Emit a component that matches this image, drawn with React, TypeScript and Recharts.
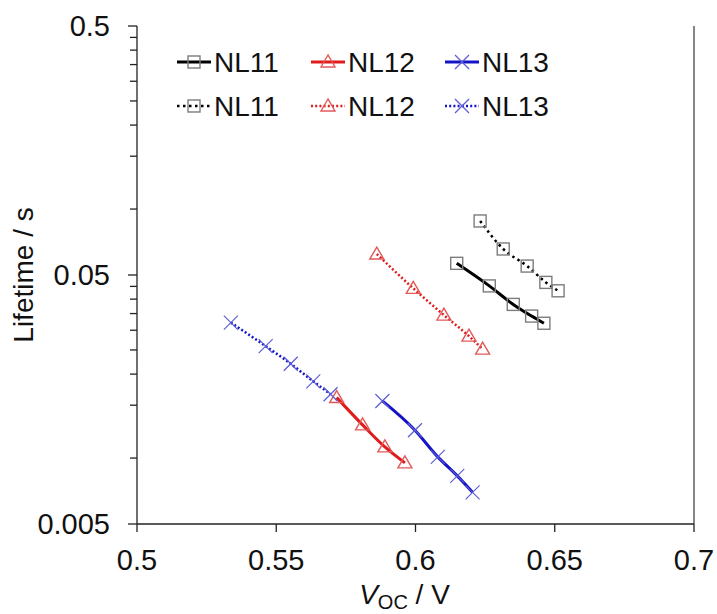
import React from 'react';
import { LineChart, Line, XAxis, YAxis, ReferenceLine, Customized } from 'recharts';

// ---- data ----
const seriesNames = ['NL11', 'NL12', 'NL13'];

const nl11SolidX = [0.6148, 0.6265, 0.6351, 0.6417, 0.6461];
const nl11SolidY = [0.0557, 0.0452, 0.0381, 0.0342, 0.032];
const nl11DottedX = [0.6232, 0.6315, 0.6401, 0.6468, 0.6512];
const nl11DottedY = [0.0824, 0.0636, 0.0543, 0.0467, 0.0432];

const nl12SolidX = [0.5717, 0.581, 0.589, 0.5962];
const nl12SolidY = [0.0161, 0.0125, 0.0102, 0.0088];
const nl12DottedX = [0.5861, 0.5992, 0.6102, 0.6192, 0.6241];
const nl12DottedY = [0.0607, 0.0442, 0.0345, 0.0284, 0.0252];

const nl13SolidX = [0.5881, 0.5998, 0.608, 0.615, 0.6205];
const nl13SolidY = [0.0156, 0.0119, 0.0093, 0.0078, 0.0067];
const nl13DottedX = [0.5337, 0.5462, 0.5552, 0.5633, 0.5695];
const nl13DottedY = [0.0322, 0.0259, 0.022, 0.0187, 0.0166];

const xTicks = [0.5, 0.55, 0.6, 0.65, 0.7];
const yMajorTicks = [0.005, 0.05, 0.5];
const yMinorTicks = [0.0092, 0.015, 0.02, 0.025, 0.03, 0.035, 0.04, 0.045, 0.092, 0.15, 0.2, 0.25, 0.3, 0.35, 0.4, 0.45];

// ---- styles ----
const lineColors = ['#000000', '#e01b1b', '#1414c6'];
const markerColors = ['#7c7c7c', '#e25a5a', '#5c5cd8'];
const shapes = ['square', 'triangle', 'cross'];
const dottedDash = ['2.5 3.5', '2 2.2', '2 2.2'];
const FONT = '"Liberation Sans", Arial, Helvetica, sans-serif';

const zip = (xs: number[], ys: number[]) => xs.map((x, i) => ({ x, y: ys[i] }));

const series = [
  { idx: 0, dotted: false, data: zip(nl11SolidX, nl11SolidY) },
  { idx: 1, dotted: false, data: zip(nl12SolidX, nl12SolidY) },
  { idx: 2, dotted: false, data: zip(nl13SolidX, nl13SolidY) },
  { idx: 0, dotted: true, data: zip(nl11DottedX, nl11DottedY) },
  { idx: 1, dotted: true, data: zip(nl12DottedX, nl12DottedY) },
  { idx: 2, dotted: true, data: zip(nl13DottedX, nl13DottedY) },
];

function Marker({ shape, cx, cy, color }: { shape: string; cx: number; cy: number; color: string }) {
  if (shape === 'square') {
    return <rect x={cx - 6} y={cy - 6} width={12} height={12} fill="none" stroke={color} strokeWidth={1.4} />;
  }
  if (shape === 'triangle') {
    return (
      <polygon
        points={`${cx},${cy - 7} ${cx - 7},${cy + 5} ${cx + 7},${cy + 5}`}
        fill="none"
        stroke={color}
        strokeWidth={1.4}
      />
    );
  }
  return (
    <g stroke={color} strokeWidth={1.2}>
      <line x1={cx - 7} y1={cy - 7} x2={cx + 7} y2={cy + 7} />
      <line x1={cx - 7} y1={cy + 7} x2={cx + 7} y2={cy - 7} />
    </g>
  );
}

function LegendBlock() {
  const colX = [177, 311, 445];
  const rowY = [62, 106];
  return (
    <g>
      {[false, true].map((dotted, r) =>
        seriesNames.map((name, i) => {
          const x0 = colX[i];
          const y = rowY[r];
          return (
            <g key={`${r}-${i}`}>
              <line
                x1={x0}
                y1={y}
                x2={x0 + 34}
                y2={y}
                stroke={lineColors[i]}
                strokeWidth={dotted ? 2.5 : 3}
                strokeDasharray={dotted ? dottedDash[i] : undefined}
              />
              <Marker shape={shapes[i]} cx={x0 + 17} cy={y} color={markerColors[i]} />
              <text x={x0 + 37} y={y} dy="0.36em" fontSize={28} fontFamily={FONT} fill="#111">
                {name}
              </text>
            </g>
          );
        })
      )}
    </g>
  );
}

const Y_TICK_SIZE = 9;
const Y_TICK_MARGIN = 18;

function YTick(props: any) {
  const { x, y, payload } = props;
  const v = payload.value;
  const major = yMajorTicks.includes(v);
  const axisX = x + Y_TICK_MARGIN + Y_TICK_SIZE;
  const len = major ? 9 : 7;
  return (
    <g>
      <line x1={axisX - len} y1={y} x2={axisX} y2={y} stroke="#222" strokeWidth={1.3} />
      {major && (
        <text x={x} y={y} dy="0.355em" textAnchor="end" fontSize={29} fontFamily={FONT} fill="#111">
          {String(v)}
        </text>
      )}
    </g>
  );
}

export default function App() {
  const yTicks = [...yMajorTicks, ...yMinorTicks].sort((a, b) => a - b);
  return (
    <div style={{ position: 'fixed', left: 0, top: 0, width: 717, height: 614, background: '#fff' }}>
      <LineChart width={717} height={614} margin={{ top: 26, right: 23, bottom: 0, left: 0 }}>
        <XAxis
          type="number"
          dataKey="x"
          domain={[0.5, 0.7]}
          ticks={xTicks}
          allowDataOverflow
          height={90}
          tickSize={8}
          tickMargin={17}
          tick={{ fontSize: 29, fontFamily: FONT, fill: '#111' }}
          axisLine={{ stroke: '#222', strokeWidth: 1.3 }}
          tickLine={{ stroke: '#222', strokeWidth: 1.3 }}
          tickFormatter={(v: number) => String(v)}
          label={{
            content: (props: any) => {
              const vb = props.viewBox || { x: 137, y: 524, width: 557 };
              const cx = vb.x + vb.width / 2 - 11;
              return (
                <text x={cx} y={604} textAnchor="middle" fontSize={28} fontFamily={FONT} fill="#111">
                  <tspan fontStyle="italic">V</tspan>
                  <tspan fontSize={20} dy={5}>OC</tspan>
                  <tspan dy={-5}> / V</tspan>
                </text>
              );
            },
          }}
        />
        <YAxis
          type="number"
          dataKey="y"
          scale="log"
          domain={[0.005, 0.5]}
          ticks={yTicks}
          allowDataOverflow
          width={137}
          tickSize={Y_TICK_SIZE}
          tickMargin={Y_TICK_MARGIN}
          interval={0}
          tick={<YTick />}
          tickLine={false}
          axisLine={{ stroke: '#222', strokeWidth: 1.3 }}
          label={{
            content: () => (
              <text
                x={33}
                y={275}
                transform="rotate(-90 33 275)"
                textAnchor="middle"
                fontSize={28}
                fontFamily={FONT}
                fill="#111"
              >
                Lifetime / s
              </text>
            ),
          }}
        />
        <ReferenceLine x={0.7} stroke="#444" strokeWidth={1.3} />
        {series.map((s, k) => (
          <Line
            key={k}
            data={s.data}
            dataKey="y"
            type="monotone"
            stroke={lineColors[s.idx]}
            strokeWidth={s.dotted ? 2.5 : 3}
            strokeDasharray={s.dotted ? dottedDash[s.idx] : undefined}
            isAnimationActive={false}
            activeDot={false}
            dot={(p: any) => (
              <Marker
                key={`d-${k}-${p.index}`}
                shape={shapes[s.idx]}
                cx={p.cx}
                cy={p.cy}
                color={markerColors[s.idx]}
              />
            )}
          />
        ))}
        <Customized component={LegendBlock} />
      </LineChart>
    </div>
  );
}
